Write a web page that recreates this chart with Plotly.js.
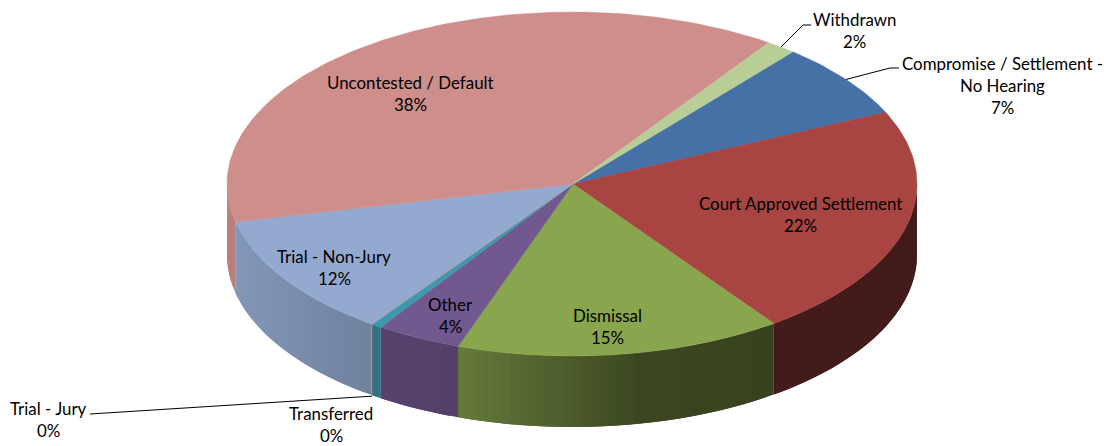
<!DOCTYPE html>
<html><head><meta charset="utf-8">
<script src="https://cdn.plot.ly/plotly-3.0.1.min.js"></script>
<style>html,body{margin:0;padding:0;background:#fff}#c{width:1104px;height:446px}</style>
</head><body><div id="c"></div>
<script>
// Data (clockwise order, share of the whole)
const categories = ["Compromise / Settlement - No Hearing","Court Approved Settlement","Dismissal","Other","Transferred","Trial - Jury","Trial - Non-Jury","Uncontested / Default","Withdrawn"];
const shares     = [7.1, 21.9, 15.3, 4.0, 0.47, 0.03, 11.6, 38.2, 1.4];
const pctLabels  = ["7%","22%","15%","4%","0%","0%","12%","38%","2%"];
const topColors  = ["#4571A6","#A84442","#89A54E","#71588F","#3F97AE","#DB843D","#93A9CF","#CE8E8C","#B9CD96"];
const startAngle = 39.8;

// Label layout
const labelLines = [
  ["Compromise / Settlement -","No Hearing"],["Court Approved Settlement"],["Dismissal"],["Other"],
  ["Transferred"],["Trial - Jury"],["Trial - Non-Jury"],["Uncontested / Default"],["Withdrawn"]];
const labelX = [1002,800,607,450,331,48,334,410,854];
const labelY = [63,203,315,304,413,408,256,82,19];
const LINE = 22, FS = 16.9, FONT = "Lato, 'Open Sans', sans-serif";

// Pie geometry in pixels of the fixed axes
const CX=572, CY=184, RX=345, RY=172, H=71;
const rim=(a,dy=0)=>{const r=a*Math.PI/180;return [CX+RX*Math.sin(r),CY-RY*Math.cos(r)+dy];};
function shade(x){ // side-wall lighting, left to right
  const p=[[227,.90],[374,.76],[459,.74],[640,.43],[773,.40],[917,.40]];
  for(let i=1;i<p.length;i++) if(x<=p[i][0]){const t=(x-p[i-1][0])/(p[i][0]-p[i-1][0]);return p[i-1][1]+t*(p[i][1]-p[i-1][1]);}
  return .40;
}
function mix(hex,f){const n=parseInt(hex.slice(1),16);return `rgb(${Math.round((n>>16)*f)},${Math.round(((n>>8)&255)*f)},${Math.round((n&255)*f)})`;}

const total=shares.reduce((a,b)=>a+b,0);
let a0=startAngle; const spans=shares.map(s=>{const d=s/total*360;const o=[a0,a0+d];a0+=d;return o;});
const traces=[];
// side walls: only the front half (90..270 degrees clockwise from the top) shows.
// Each strip runs on to the end of its slice's next strip, so no white seam can show.
spans.forEach((sp,i)=>{
  for(const off of [0,360]){
    const lo=Math.max(sp[0]-off,90), hi=Math.min(sp[1]-off,270);
    if(hi<=lo) continue;
    const n=Math.max(1,Math.ceil((hi-lo)/1.5));
    for(let k=0;k<n;k++){
      const a=lo+(hi-lo)*k/n,b=lo+(hi-lo)*(k+1)/n,e=Math.min(hi,b+(hi-lo)/n);
      const P=[];
      const m=6;
      for(let q=0;q<=m;q++)P.push(rim(a+(e-a)*q/m));
      for(let q=m;q>=0;q--)P.push(rim(a+(e-a)*q/m,H));
      P.push(P[0]);
      const col=mix(topColors[i],shade(rim((a+b)/2)[0]));
      traces.push({type:"scatter",mode:"lines",x:P.map(p=>p[0]),y:P.map(p=>p[1]),fill:"toself",fillcolor:col,line:{width:0},hoverinfo:"skip",showlegend:false});
    }
  }
});
// top face
spans.forEach((sp,i)=>{
  const xs=[CX+1],ys=[CY];
  const n=Math.max(2,Math.ceil((sp[1]-sp[0])/1));
  for(let k=0;k<=n;k++){const p=rim(sp[0]+(sp[1]-sp[0])*k/n);xs.push(p[0]);ys.push(p[1]);}
  xs.push(CX+1);ys.push(CY);
  traces.push({type:"scatter",mode:"lines",name:categories[i],x:xs,y:ys,fill:"toself",fillcolor:topColors[i],line:{color:topColors[i],width:.5},hoverinfo:"name",showlegend:false});
});
// leader lines anchored at each slice's rim
const mid=i=>(spans[i][0]+spans[i][1])/2;
const leaders=[[rim(mid(8)),[803,25],[811,25]],[rim(mid(0)),[890,68],[899,68]],[rim(mid(5),H+1),[90,414]]];
leaders.forEach(L=>traces.push({type:"scatter",mode:"lines",x:L.map(p=>p[0]),y:L.map(p=>p[1]),line:{color:"#000",width:1},hoverinfo:"skip",showlegend:false}));

const annotations=[];
categories.forEach((c,i)=>{
  [...labelLines[i],pctLabels[i]].forEach((t,j)=>annotations.push({
    x:labelX[i],y:labelY[i]+j*LINE,xref:"x",yref:"y",text:t,showarrow:false,xanchor:"center",yanchor:"middle",
    font:{family:FONT,size:FS,color:"#000"}}));
});
Plotly.newPlot("c",traces,{
  width:1104,height:446,margin:{l:0,r:0,t:0,b:0},paper_bgcolor:"#fff",plot_bgcolor:"#fff",showlegend:false,
  xaxis:{range:[0,1104],visible:false,fixedrange:true},
  yaxis:{range:[446,0],visible:false,fixedrange:true},
  annotations
},{displayModeBar:false,staticPlot:true});
</script></body></html>
